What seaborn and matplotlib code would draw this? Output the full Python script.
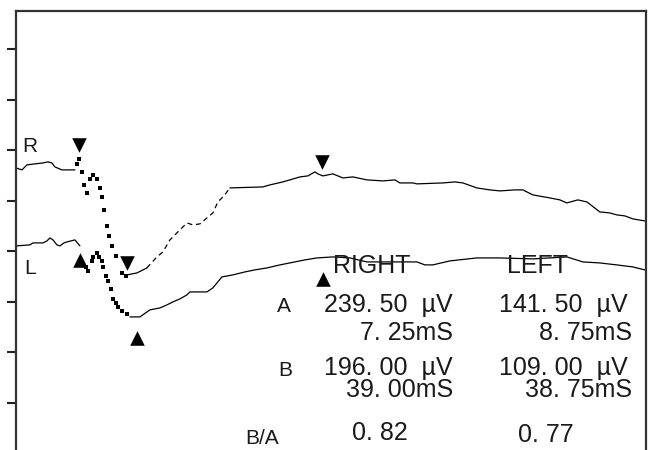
import matplotlib
matplotlib.use("Agg")
import numpy as np
import pandas as pd
import matplotlib.pyplot as plt
import seaborn as sns

# right eye trace (time in ms, amplitude in uV)
r_t = [-10.83, -9.85, -9.36, -9.04, -7.74, -6.43, -5.62, -4.97, -4.48, -3.34, -1.22,
       -0.90, -0.57, -0.08, 0.24, 0.73, 1.22, 1.71, 2.36, 2.85, 3.18, 3.50, 3.99, 4.32,
       4.80, 5.46, 6.43, 7.08,
       7.25, 8.88, 10.50, 12.13, 13.11, 14.25, 15.88, 17.02, 18.0, 19.14, 20.28, 21.25,
       22.07, 23.05, 24.02,
       29.40, 30.54, 32.65, 33.79, 35.42, 36.73, 37.87, 38.36, 39.17, 40.80, 42.43, 44.06,
       46.34, 48.94, 50.90, 51.71, 53.83, 54.48, 58.71, 60.67, 61.97, 64.25, 66.37, 68.0,
       70.44, 71.74, 73.37, 76.14, 77.77, 78.91, 80.70, 82.17, 84.28, 85.91, 87.05, 88.36,
       89.66, 91.61]
r_v = [65.3, 61.4, 67.3, 71.3, 73.3, 75.2, 77.2, 75.2, 67.3, 61.4, 61.4,
       73.3, 83.2, 57.4, 31.7, 15.8, 43.6, 51.5, 43.6, 25.7, 7.9, -17.8, -49.5, -69.3,
       -89.1, -108.9, -142.6, -148.5,
       -146.5, -142.6, -132.7, -110.9, -101.0, -77.2, -57.4, -43.6, -47.5, -45.5, -33.7, -23.8,
       -2.0, 9.9, 25.7,
       27.7, 31.7, 37.6, 41.6, 47.5, 49.5, 57.4, 53.5, 49.5, 53.5, 45.5, 47.5,
       41.6, 39.6, 41.6, 35.6, 35.6, 33.7, 35.6, 37.6, 35.6, 25.7, 21.8, 19.8,
       21.8, 21.8, 11.9, 5.9, 2.0, -4.0, 2.0, -2.0, -21.8, -23.8, -27.7, -29.7,
       -35.6, -39.6]

# left eye trace
l_t = [-10.83, -8.55, -8.06, -6.43, -5.78, -5.29, -4.80, -4.15, -3.66, -3.01, -2.52, -1.22, -0.41,
       0.57, 0.90, 1.55, 1.71, 2.36, 2.69, 3.18, 3.34, 3.83, 4.15, 4.64, 4.97, 5.46, 5.78,
       6.43, 7.25,
       7.74, 9.36, 10.99, 12.62, 13.76, 14.74, 15.88, 17.02, 17.51, 20.28, 21.25, 22.72,
       24.51, 26.47, 28.09, 30.05, 32.17, 33.79, 36.24, 38.19, 40.80, 43.57, 46.34, 49.27,
       51.71, 54.48, 55.78, 57.08, 59.85, 64.25, 68.0, 73.37, 78.91, 81.51, 84.28, 87.05,
       89.66, 91.61]
l_v = [-89.1, -87.1, -83.2, -83.2, -79.2, -73.3, -77.2, -87.1, -89.1, -83.2, -81.2, -77.2, -89.1,
       -130.7, -138.6, -118.8, -110.9, -103.0, -110.9, -118.8, -130.7, -148.5, -158.4, -174.2,
       -194.0, -202.0, -209.9, -217.8, -223.7,
       -229.7, -229.7, -215.8, -211.9, -205.9, -200.0, -194.0, -186.1, -180.2, -180.2, -172.2,
       -150.5, -146.5, -140.6, -136.6, -132.7, -126.7, -122.8, -116.8, -112.9, -110.9, -112.9,
       -120.8, -120.8, -120.8, -120.8, -126.7, -126.7, -118.8, -112.9, -112.9, -114.8, -110.9,
       -120.8, -122.8, -126.7, -130.7, -136.6]

# cursor markers: flash, a-wave, b-wave
r_mark_t = [-0.57, 7.25, 39.0]
r_mark_v = [110.9, -122.8, 77.2]
l_mark_t = [-0.41, 8.88, 39.17]
l_mark_v = [-116.8, -271.3, -154.4]

# results table
headers = ["RIGHT", "LEFT"]
row_labels = ["A", "B", "B/A"]
amp_right = ["239. 50  \u00b5V", "196. 00  \u00b5V"]
amp_left = ["141. 50  \u00b5V", "109. 00  \u00b5V"]
lat_right = ["7. 25mS", "39. 00mS"]
lat_left = ["8. 75mS", "38. 75mS"]
ratio = ["0. 82", "0. 77"]

W, H = 654, 450
sns.set_style("white")
plt.rcParams["font.family"] = ["Liberation Sans", "DejaVu Sans"]

fig = plt.figure(figsize=(W / 100, H / 100), dpi=100)
ax = fig.add_axes([15.5 / W, -9 / H, (646 - 15.5) / W, (459 - 11) / H])

r = pd.DataFrame({"t": r_t, "v": r_v})
l = pd.DataFrame({"t": l_t, "v": l_v})


def draw_trace(df, dot_from, dot_to, dash_from=None, dash_to=None):
    lw = 0.9
    base = df[df.t <= dot_from]
    dots = df[(df.t > dot_from) & (df.t < dot_to)]
    rest = df[df.t >= dot_to]
    sns.lineplot(data=base, x="t", y="v", ax=ax, color="black", lw=lw, sort=False)
    sns.scatterplot(data=dots, x="t", y="v", ax=ax, color="black", marker="s", s=5,
                    linewidth=0)
    if dash_from is None:
        sns.lineplot(data=rest, x="t", y="v", ax=ax, color="black", lw=lw, sort=False)
    else:
        a = rest[rest.t <= dash_from]
        b = rest[(rest.t >= dash_from) & (rest.t <= dash_to)]
        c = rest[rest.t >= dash_to]
        sns.lineplot(data=a, x="t", y="v", ax=ax, color="black", lw=lw, sort=False)
        ax.plot(b.t, b.v, color="black", lw=lw, ls=(0, (4, 3)))
        ax.plot([b.t.iloc[-1], c.t.iloc[0]], [b.v.iloc[-1], c.v.iloc[0]], color="black", lw=lw)
        sns.lineplot(data=c, x="t", y="v", ax=ax, color="black", lw=lw, sort=False)


draw_trace(r, -1.22, 7.2, 10.5, 24.02)
draw_trace(l, -0.41, 7.3)

ax.scatter(r_mark_t, r_mark_v, marker="v", s=110, color="black", linewidths=0, zorder=5)
ax.scatter(l_mark_t, l_mark_v, marker="^", s=110, color="black", linewidths=0, zorder=5)

ax.set_xlim(-10.9, 91.8)
ax.set_ylim(-511, 376)
ax.set_yticks([300, 200, 100, 0, -100, -200, -300, -400])
ax.set_yticklabels([])
ax.set_xticks([])
ax.set_xlabel("")
ax.set_ylabel("")
ax.tick_params(axis="y", direction="out", length=6.5, width=1.5, color="#222222", left=True)
for side in ["left", "top", "right"]:
    ax.spines[side].set_color("#333333")
    ax.spines[side].set_linewidth(1.6)
ax.spines["bottom"].set_visible(False)


def put(x, y, s, size, ha="left"):
    fig.text(x / W, 1 - y / H, s, fontsize=size, ha=ha, va="baseline", color="#1a1a1a")


put(22, 152, "R", 15)
put(24, 274, "L", 15)
put(333, 273, headers[0], 18)
put(507, 273, headers[1], 18)
put(277, 312, row_labels[0], 15)
put(278, 376, row_labels[1], 15)
put(245, 444, row_labels[2], 15)
put(453, 312, amp_right[0], 18, "right")
put(628, 312, amp_left[0], 18, "right")
put(453, 340, lat_right[0], 18, "right")
put(632, 340, lat_left[0], 18, "right")
put(453, 375, amp_right[1], 18, "right")
put(628, 375, amp_left[1], 18, "right")
put(453, 397, lat_right[1], 18, "right")
put(632, 397, lat_left[1], 18, "right")
put(352, 440, ratio[0], 18)
put(518, 442, ratio[1], 18)

fig.savefig("out.png", dpi=100)
